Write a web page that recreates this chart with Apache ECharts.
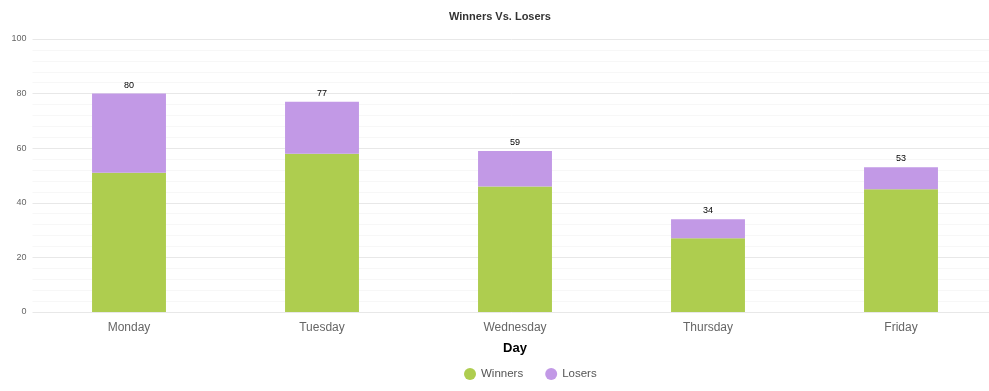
<!DOCTYPE html>
<html><head><meta charset="utf-8">
<script src="https://cdn.jsdelivr.net/npm/echarts@6/dist/echarts.min.js"></script>
<style>html,body{margin:0;padding:0;background:#fff}#c{width:989px;height:391px}</style>
</head><body><div id="c"></div>
<script>
const categories = ["Monday", "Tuesday", "Wednesday", "Thursday", "Friday"];
const winners = [51, 58, 46, 27, 45];
const losers = [29, 19, 13, 7, 8];
const yTicks = [0, 20, 40, 60, 80, 100];

const totals = winners.map((w, i) => w + losers[i]);
const chart = echarts.init(document.getElementById('c'));
chart.setOption({
  animation: false,
  title: {
    text: 'Winners Vs. Losers', left: 444, top: 6,
    textStyle: { fontSize: 11, fontWeight: 'bold', color: '#333', fontFamily: 'Arial, Liberation Sans' }
  },
  legend: {
    data: ['Winners', 'Losers'], bottom: 6, left: 459, icon: 'circle',
    itemWidth: 12, itemHeight: 12, itemGap: 22,
    textStyle: { fontSize: 11.5, color: '#555', fontFamily: 'Arial, Liberation Sans' }
  },
  grid: { left: 32.5, right: -8.5, top: 39, bottom: 79, outerBoundsMode: 'none', containLabel: false },
  xAxis: {
    type: 'category', data: categories,
    name: 'Day', nameLocation: 'middle', nameGap: 30,
    nameTextStyle: { fontSize: 13, fontWeight: 'bold', color: '#000', fontFamily: 'Arial, Liberation Sans' },
    axisLine: { show: false }, axisTick: { show: false },
    axisLabel: { fontSize: 12, color: '#666', margin: 10, fontFamily: 'Arial, Liberation Sans' }
  },
  yAxis: {
    type: 'value', min: yTicks[0], max: yTicks[yTicks.length - 1], interval: 20,
    axisLine: { show: false }, axisTick: { show: false },
    axisLabel: { fontSize: 9, color: '#666', margin: 6, fontFamily: 'Arial, Liberation Sans' },
    splitLine: { lineStyle: { color: '#e8e8e8' } },
    minorTick: { show: false, splitNumber: 5 },
    minorSplitLine: { show: true, lineStyle: { color: '#f7f7f7' } }
  },
  series: [
    {
      name: 'Winners', type: 'bar', stack: 't', data: winners, barWidth: '38.3%',
      itemStyle: { color: '#aecd4f' }
    },
    {
      name: 'Losers', type: 'bar', stack: 't', data: losers,
      itemStyle: { color: '#c299e6' },
      label: {
        show: true, position: 'top', distance: 4, fontSize: 9, color: '#000',
        fontFamily: 'Arial, Liberation Sans',
        formatter: p => totals[p.dataIndex]
      }
    }
  ]
});
</script></body></html>
